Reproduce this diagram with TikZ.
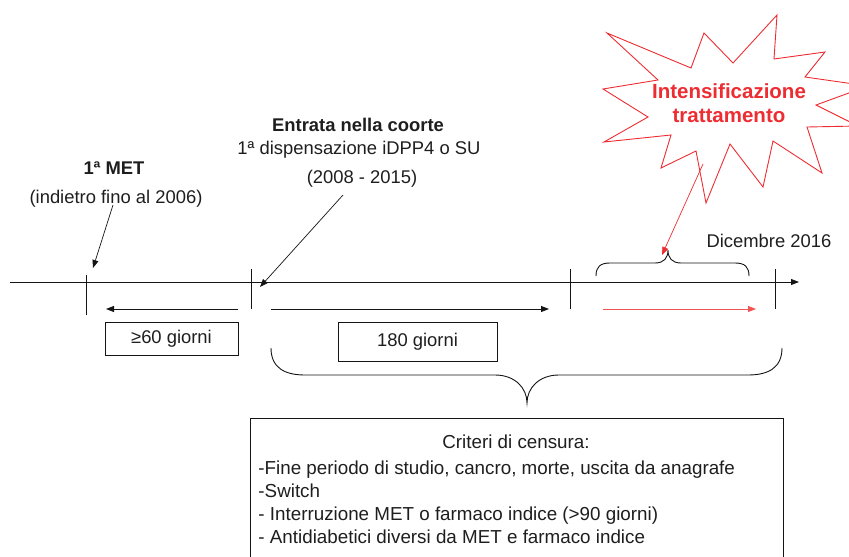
\documentclass[tikz,border=0pt]{standalone}
\usepackage{fontspec}
\setmainfont{Liberation Sans}
\usetikzlibrary{arrows.meta}
\definecolor{redx}{RGB}{237,45,50}
\definecolor{redl}{RGB}{240,85,85}
\definecolor{txt}{RGB}{30,30,30}
\definecolor{ln}{RGB}{20,20,20}
\begin{document}
\begin{tikzpicture}[x=1pt,y=-1pt,line width=0.9pt,draw=ln,
  lbl/.style={font=\fontsize{18.4}{22}\selectfont,text=txt,inner sep=0pt,anchor=base},
  lblb/.style={lbl,font=\fontsize{18.4}{22}\bfseries\selectfont},
  lblw/.style={lbl,font=\fontsize{18.8}{22}\selectfont,anchor=base west},
  boom/.style={font=\fontsize{20.5}{24}\bfseries\selectfont,text=redx,inner sep=0pt,anchor=base},
  tri/.style={-{Triangle[length=8pt,width=6pt]}},
  boxed/.style={draw=ln,line width=0.9pt,font=\fontsize{18.4}{22}\selectfont,text=txt,inner sep=0pt}]
\useasboundingbox (0,0) rectangle (849,557);

% timeline
\coordinate (tl0) at (10,282);
\coordinate (tl1) at (799,282);
\draw[tri] (tl0) -- (tl1);
% ticks
\draw (86,275) -- (86,315);
\draw (251,269) -- (251,309);
\draw (570,269) -- (570,309);
\draw (775,269) -- (775,309);

% lower arrows
\coordinate (a60s) at (238,309); \coordinate (a60e) at (106,309);
\draw[tri] (a60s) -- (a60e);
\coordinate (a180s) at (271,309); \coordinate (a180e) at (549,309);
\draw[tri] (a180s) -- (a180e);
\coordinate (ars) at (603,309); \coordinate (are) at (756,309);
\draw[tri,draw=redl,color=redl] (ars) -- (are);

% boxes
\node[boxed,minimum width=133pt,minimum height=33pt] (b60) at (171.5,338.5) {≥60 giorni};
\node[boxed,minimum width=159pt,minimum height=39pt] (b180) at (417.5,341.5) {180 giorni};

% big brace
\draw (271,348) .. controls (271,368) and (285,375) .. (305,375) -- (495,375)
  .. controls (515,375) and (527,388) .. (527,403)
  .. controls (527,388) and (539,375) .. (559,375) -- (748,375)
  .. controls (768,375) and (782,368) .. (782,348);

% small brace
\draw (596,276) .. controls (596,267) and (600,263) .. (610,263) -- (655,263)
  .. controls (664,263) and (668,258) .. (668,250)
  .. controls (668,258) and (672,263) .. (681,263) -- (735,263)
  .. controls (745,263) and (749,267) .. (749,276);

% criteri box (open at bottom)
\draw (250,562) -- (250,418) -- (783,418) -- (783,562);
\node[lbl,font=\fontsize{18.8}{22}\selectfont] (crit) at (516,448) {Criteri di censura:};
\node[lblw] (c1) at (258,474) {-Fine periodo di studio, cancro, morte, uscita da anagrafe};
\node[lblw] (c2) at (258,497) {-Switch};
\node[lblw] (c3) at (258,520) {- Interruzione MET o farmaco indice (>90 giorni)};
\node[lblw] (c4) at (258,543) {- Antidiabetici diversi da MET e farmaco indice};

% top labels
\node[lblb] (met) at (114,174) {1ª MET};
\node[lbl] (met2) at (116,203) {(indietro fino al 2006)};
\node[lblb] (ent) at (358,131) {Entrata nella coorte};
\node[lbl] (ent2) at (359,154) {1ª dispensazione iDPP4 o SU};
\node[lbl] (ent3) at (362,183) {(2008 - 2015)};
\node[lbl] (dic) at (769,247) {Dicembre 2016};

% pointer arrows
\coordinate (p1s) at (113,205); \coordinate (p1e) at (93,268);
\draw[tri,line width=0.7pt] (p1s) -- (p1e);
\coordinate (p2s) at (343,195); \coordinate (p2e) at (260,287);
\draw[tri,line width=0.7pt] (p2s) -- (p2e);

% explosion
\draw[redx,line width=0.9pt] (607,33) -- (691,68) -- (704,33) -- (733,63) -- (777,15) -- (774,59)
  -- (825,52) -- (805,77) -- (868,86) -- (816,105) -- (858,126) -- (807,127) -- (822,173)
  -- (773,141) -- (763,187) -- (730,144) -- (706,203) -- (696,151) -- (661,168) -- (671,135)
  -- (604,142) -- (648,117) -- (603,89) -- (658,80) -- cycle;
\node[boom] (int1) at (729,98) {Intensificazione};
\node[boom] (int2) at (729,122) {trattamento};
\coordinate (p3s) at (703,164); \coordinate (p3e) at (662,255);
\draw[tri,draw=redx,color=redx,line width=0.7pt] (p3s) -- (p3e);
\end{tikzpicture}
\end{document}
